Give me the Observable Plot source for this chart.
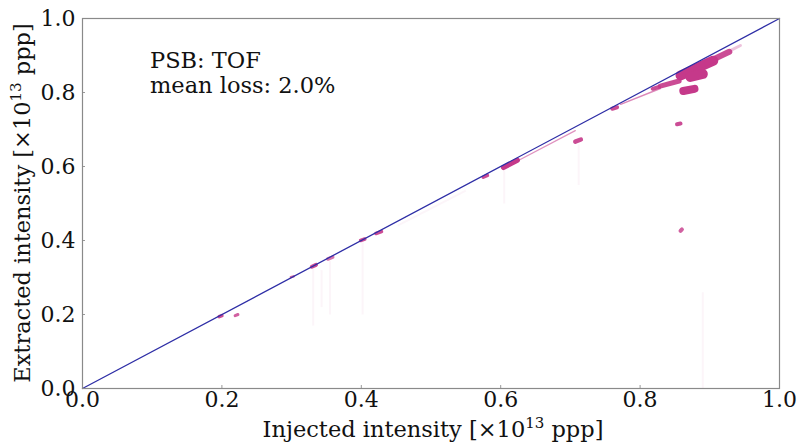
<!DOCTYPE html>
<html>
<head>
<meta charset="utf-8">
<script src="https://cdn.jsdelivr.net/npm/d3@7"></script>
<script src="https://cdn.jsdelivr.net/npm/@observablehq/plot@0.6"></script>
<style>
  html, body { margin: 0; padding: 0; background: #fff; }
  #chart { width: 800px; height: 442px; }
  .blobs { filter: blur(0.6px); }
</style>
</head>
<body>
<div id="chart"></div>
<script>
// Axis ticks
const xTicks = [0, 0.2, 0.4, 0.6, 0.8, 1.0];
const yTicks = [0, 0.2, 0.4, 0.6, 0.8, 1.0];

// Ideal (no loss) reference line
const diagX = [0, 1];
const diagY = [0, 1];

// Dense clusters of (injected, extracted) shots, as short strokes
const blobX1 = [0.858, 0.872, 0.829, 0.862, 0.890, 0.772, 0.930, 0.196, 0.219, 0.299, 0.329, 0.352, 0.399, 0.421, 0.575, 0.604, 0.626, 0.707, 0.760, 0.853, 0.858, 0.818];
const blobY1 = [0.846, 0.842, 0.817, 0.804, 0.876, 0.768, 0.914, 0.194, 0.197, 0.301, 0.329, 0.350, 0.400, 0.419, 0.571, 0.597, 0.617, 0.667, 0.756, 0.714, 0.426, 0.810];
const blobX2 = [0.905, 0.890, 0.856, 0.878, 0.928, 0.829, 0.944, 0.200, 0.223, 0.303, 0.335, 0.359, 0.405, 0.429, 0.581, 0.624, 0.707, 0.715, 0.767, 0.858, 0.860, 0.827];
const blobY2 = [0.886, 0.850, 0.831, 0.810, 0.910, 0.811, 0.927, 0.197, 0.200, 0.303, 0.334, 0.355, 0.404, 0.424, 0.576, 0.617, 0.697, 0.673, 0.760, 0.716, 0.430, 0.815];
const blobW  = [10, 10, 5, 8, 6, 1.5, 3, 3.5, 3, 2.5, 4, 3.5, 3.5, 3.5, 3.5, 5, 1.3, 4.5, 4, 4, 4, 4];
const blobO  = [1, 1, 0.9, 1, 0.9, 0.6, 0.3, 0.9, 0.8, 0.8, 0.9, 0.7, 0.9, 0.9, 0.9, 1, 0.55, 0.9, 0.9, 0.9, 0.8, 0.9];

// Faint vertical trails of lossy shots
const trailX  = [0.331, 0.343, 0.355, 0.402, 0.605, 0.712, 0.890, 0.452];
const trailY1 = [0.325, 0.320, 0.345, 0.395, 0.590, 0.660, 0.260, 0.440];
const trailX2 = [0.331, 0.343, 0.355, 0.402, 0.605, 0.712, 0.890, 0.550];
const trailY2 = [0.170, 0.220, 0.200, 0.200, 0.500, 0.550, 0.000, 0.535];

const blobs = blobX1.map((d, i) => ({x1: d, y1: blobY1[i], x2: blobX2[i], y2: blobY2[i], w: blobW[i], o: blobO[i]}));
const trails = trailX.map((d, i) => ({x1: d, y1: trailY1[i], x2: trailX2[i], y2: trailY2[i]}));
const diag = diagX.map((d, i) => ({x: d, y: diagY[i]}));

const W = 800, H = 442;
const mL = 82, mR = 21, mT = 18, mB = 54;
const font = "'DejaVu Serif', serif";

const chart = Plot.plot({
  width: W, height: H,
  marginLeft: mL, marginRight: mR, marginTop: mT, marginBottom: mB,
  style: {fontFamily: font, fontSize: "22px", background: "#fff", color: "#111"},
  x: {domain: [0, 1]},
  y: {domain: [0, 1]},
  marks: [
    Plot.link(trails, {x1: "x1", y1: "y1", x2: "x2", y2: "y2", stroke: "#c5398a", strokeOpacity: 0.05, strokeWidth: 2}),
    Plot.link(blobs, {x1: "x1", y1: "y1", x2: "x2", y2: "y2", stroke: "#c5398a", strokeWidth: "w", strokeOpacity: "o", strokeLinecap: "round", className: "blobs"}),
    Plot.line(diag, {x: "x", y: "y", stroke: "#2e2ea6", strokeWidth: 1.3}),
    Plot.ruleX(xTicks, {stroke: "#999", insetTop: H - mT - mB - 3}),
    Plot.ruleY(yTicks, {stroke: "#999", insetRight: W - mL - mR - 3}),
    Plot.axisX(xTicks, {tickSize: 0, tickPadding: 3, tickFormat: d3.format(".1f"), label: null, fontSize: 22}),
    Plot.axisY(yTicks, {tickSize: 0, tickPadding: 7, tickFormat: d3.format(".1f"), label: null, fontSize: 22}),
    Plot.frame({stroke: "#8a8a8a", strokeWidth: 1.2})
  ]
});
document.getElementById("chart").appendChild(chart);

const svg = d3.select(chart);
// Annotation
const ann = svg.append("text").attr("font-family", font).attr("font-size", 22.5).attr("fill", "#111").attr("text-anchor", "start");
ann.append("tspan").attr("x", 150).attr("y", 68).text("PSB: TOF");
ann.append("tspan").attr("x", 150).attr("y", 93).text("mean loss: 2.0%");

// Axis labels with superscript exponent
function label(sel, pre) {
  sel.append("tspan").text(pre + "[×10");
  sel.append("tspan").attr("font-size", 15).attr("dy", -9).text("13");
  sel.append("tspan").attr("dy", 9).text(" ppp]");
}
const xl = svg.append("text").attr("font-family", font).attr("font-size", 22.5).attr("fill", "#111")
  .attr("text-anchor", "middle").attr("x", 433).attr("y", 437);
label(xl, "Injected intensity ");
const yl = svg.append("text").attr("font-family", font).attr("font-size", 22.5).attr("fill", "#111")
  .attr("text-anchor", "middle").attr("transform", `translate(30,${mT + (H - mT - mB) / 2}) rotate(-90)`);
label(yl, "Extracted intensity ");
</script>
</body>
</html>
